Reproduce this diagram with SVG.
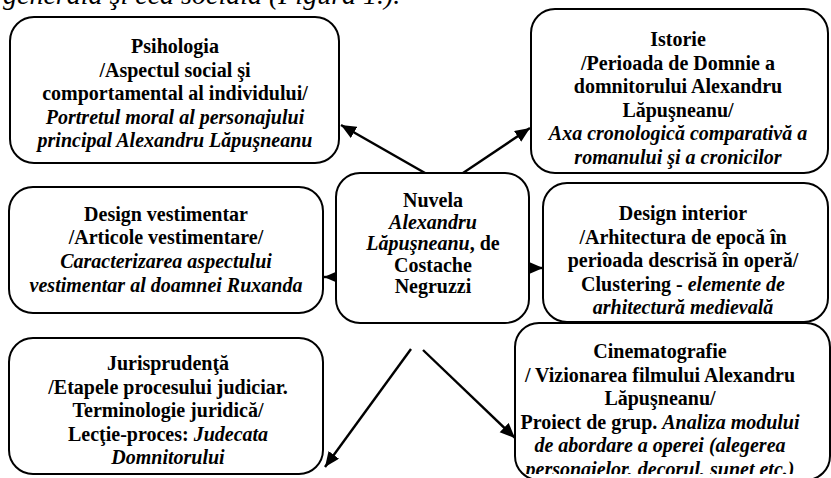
<svg xmlns="http://www.w3.org/2000/svg" width="831" height="478" viewBox="0 0 831 478">
<style>
.box{fill:#fff;stroke:#000;stroke-width:2}
.t{font-family:'Liberation Serif','Times New Roman',Times,serif;font-size:20px;font-weight:bold;text-anchor:middle;fill:#000}
.i{font-style:italic}
.con{stroke:#000;stroke-width:2.4;fill:none}
.top{font-family:'Liberation Serif','Times New Roman',Times,serif;font-size:28px;font-style:italic;fill:#000}
</style>
<defs>
<marker id="ah" markerUnits="userSpaceOnUse" markerWidth="16" markerHeight="14" refX="15" refY="6.5" orient="auto">
<path d="M0,0 L15,6.5 L0,13 z" fill="#000"/>
</marker>
<clipPath id="clipCine"><rect x="500" y="300" width="340" height="174"/></clipPath>
</defs>
<text class="top" x="3" y="4">generală şi cea socială (Figura 1.).</text>

<g id="connectors">
<line class="con" x1="425" y1="173" x2="341" y2="125" marker-end="url(#ah)"/>
<line class="con" x1="463" y1="173" x2="530" y2="128" marker-end="url(#ah)"/>
<line class="con" x1="353" y1="277" x2="324" y2="277" marker-end="url(#ah)"/>
<line class="con" x1="528" y1="268" x2="543" y2="268" marker-end="url(#ah)"/>
<line class="con" x1="411" y1="349" x2="325" y2="467" marker-end="url(#ah)"/>
<line class="con" x1="423" y1="350" x2="515" y2="438" marker-end="url(#ah)"/>
</g>

<g id="psihologia">
<rect class="box" x="10" y="17" width="329" height="146" rx="24"/>
<text class="t" x="175" y="53">Psihologia</text>
<text class="t" x="175" y="76.5">/Aspectul social şi</text>
<text class="t" x="175" y="100">comportamental al individului/</text>
<text class="t i" x="175" y="123.5">Portretul moral al personajului</text>
<text class="t i" x="175" y="147">principal Alexandru Lăpuşneanu</text>
</g>

<g id="istorie">
<rect class="box" x="531" y="9" width="297" height="164" rx="24"/>
<text class="t" x="678" y="46">Istorie</text>
<text class="t" x="678" y="69.5">/Perioada de Domnie a</text>
<text class="t" x="678" y="93">domnitorului Alexandru</text>
<text class="t" x="678" y="116.5">Lăpuşneanu/</text>
<text class="t i" x="678" y="140">Axa cronologică comparativă a</text>
<text class="t i" x="678" y="163.5">romanului şi a cronicilor</text>
</g>

<g id="nuvela">
<rect class="box" x="336" y="173" width="193" height="150" rx="24"/>
<text class="t" x="433" y="207">Nuvela</text>
<text class="t i" x="433" y="228.5">Alexandru</text>
<text class="t" x="433" y="250"><tspan font-style="italic">Lăpuşneanu</tspan>, de</text>
<text class="t" x="433" y="271.5">Costache</text>
<text class="t" x="433" y="293">Negruzzi</text>
</g>

<g id="design-vestimentar">
<rect class="box" x="9" y="187" width="314" height="126" rx="24"/>
<text class="t" x="166" y="220.5">Design vestimentar</text>
<text class="t" x="166" y="244">/Articole vestimentare/</text>
<text class="t i" x="166" y="268">Caracterizarea aspectului</text>
<text class="t i" x="166" y="291.5">vestimentar al doamnei Ruxanda</text>
</g>

<g id="design-interior">
<rect class="box" x="543" y="183" width="285" height="139" rx="24"/>
<text class="t" x="683" y="220">Design interior</text>
<text class="t" x="683" y="243.5">/Arhitectura de epocă în</text>
<text class="t" x="683" y="267">perioada descrisă în operă/</text>
<text class="t" x="683" y="290.5">Clustering - <tspan font-style="italic">elemente de</tspan></text>
<text class="t i" x="683" y="314">arhitectură  medievală</text>
</g>

<g id="jurisprudenta">
<rect class="box" x="9" y="338" width="314" height="136" rx="24"/>
<text class="t" x="168" y="370">Jurisprudenţă</text>
<text class="t" x="168" y="393.5">/Etapele procesului judiciar.</text>
<text class="t" x="168" y="417">Terminologie juridică/</text>
<text class="t" x="168" y="440.5">Lecţie-proces: <tspan font-style="italic">Judecata</tspan></text>
<text class="t i" x="168" y="464">Domnitorului</text>
</g>

<g id="cinematografie">
<rect class="box" x="515" y="323" width="315" height="157" rx="24"/>
<g clip-path="url(#clipCine)">
<text class="t" x="660" y="358">Cinematografie</text>
<text class="t" x="660" y="381.5">/ Vizionarea filmului Alexandru</text>
<text class="t" x="660" y="405">Lăpuşneanu/</text>
<text class="t" x="660" y="428.5">Proiect de grup. <tspan font-style="italic">Analiza modului</tspan></text>
<text class="t i" x="660" y="452">de abordare a operei (alegerea</text>
<text class="t i" x="660" y="475.5">personajelor, decorul, sunet etc.)</text>
</g>
</g>
</svg>
